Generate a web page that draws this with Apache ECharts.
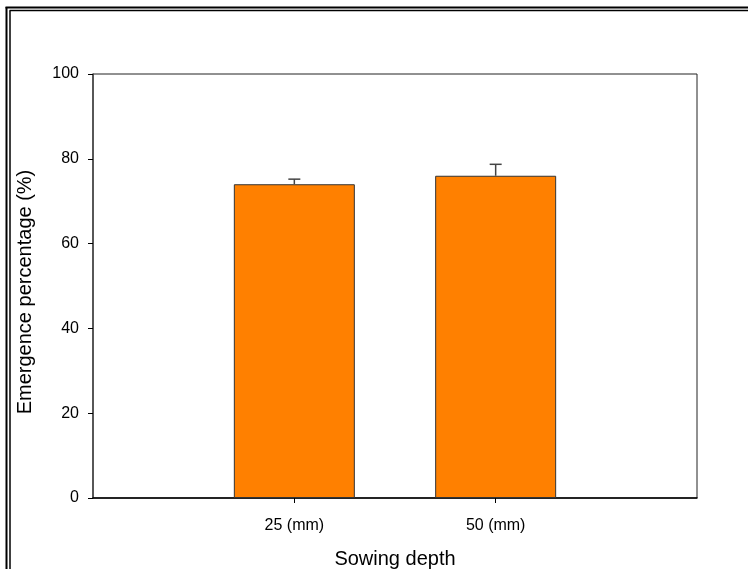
<!DOCTYPE html>
<html>
<head>
<meta charset="utf-8">
<script src="https://cdn.jsdelivr.net/npm/echarts@6/dist/echarts.min.js"></script>
<style>
  html, body { margin: 0; padding: 0; background: #fff; }
  #chart { width: 748px; height: 569px; }
</style>
</head>
<body>
<div id="chart"></div>
<script>
// Sowing depth treatments, padded with empty slots at both ends of the axis
const categories = ['', '25 (mm)', '50 (mm)', ''];
// Mean emergence (%) per depth
const emergence = [null, 74, 76, null];
// Upper standard error (%) per depth
const errorUp = [null, 1.2, 2.7, null];
const yTicks = [0, 20, 40, 60, 80, 100];

const chart = echarts.init(document.getElementById('chart'), null, { renderer: 'canvas' });

const errorData = [];
categories.forEach((c, i) => {
  if (emergence[i] != null) errorData.push([i, emergence[i], emergence[i] + errorUp[i]]);
});

const font = 'Liberation Sans, Arial, sans-serif';

chart.setOption({
  animation: false,
  backgroundColor: '#fff',
  grid: {
    left: 93, top: 74, right: 51, bottom: 71,
    outerBoundsMode: 'none',
    containLabel: false,
    show: true, borderColor: '#222', borderWidth: 1, backgroundColor: 'transparent'
  },
  xAxis: {
    type: 'category',
    data: categories,
    boundaryGap: false,
    name: 'Sowing depth',
    nameLocation: 'middle',
    nameGap: 51,
    nameTextStyle: { fontFamily: font, fontSize: 20, color: '#000' },
    axisLine: { lineStyle: { color: '#000', width: 1.5 } },
    axisTick: {
      length: 5, inside: false,
      interval: (idx) => categories[idx] !== '',
      lineStyle: { color: '#000' }
    },
    axisLabel: {
      interval: 0, margin: 20,
      fontFamily: font, fontSize: 16, color: '#000'
    },
    splitLine: { show: false }
  },
  yAxis: {
    type: 'value',
    min: yTicks[0], max: yTicks[yTicks.length - 1], interval: 20,
    name: 'Emergence percentage (%)',
    nameLocation: 'middle',
    nameGap: 58,
    nameTextStyle: { fontFamily: font, fontSize: 20, color: '#000', padding: [0, 12, 0, 0] },
    axisLine: { show: true, lineStyle: { color: '#444', width: 1.5 } },
    axisTick: { show: true, length: 5, lineStyle: { color: '#000' } },
    axisLabel: { margin: 14, fontFamily: font, fontSize: 16, color: '#000' },
    splitLine: { show: false }
  },
  series: [
    {
      type: 'bar',
      data: emergence,
      barWidth: 121,
      itemStyle: { color: '#ff8000', borderColor: '#333', borderWidth: 1 },
      z: 2
    },
    {
      type: 'custom',
      data: errorData,
      z: 3,
      renderItem: function (params, api) {
        const x = api.value(0);
        const top = api.coord([x, api.value(1)]);
        const hi = api.coord([x, api.value(2)]);
        const half = 6;
        const style = { stroke: '#444', lineWidth: 1.5 };
        return {
          type: 'group',
          children: [
            { type: 'line', shape: { x1: top[0], y1: top[1], x2: hi[0], y2: hi[1] }, style: style },
            { type: 'line', shape: { x1: hi[0] - half, y1: hi[1], x2: hi[0] + half, y2: hi[1] }, style: style }
          ]
        };
      }
    }
  ],
  graphic: [
    // double page frame on left and top
    { type: 'line', shape: { x1: 6.5, y1: 7, x2: 6.5, y2: 569 }, style: { stroke: '#000', lineWidth: 2 } },
    { type: 'line', shape: { x1: 10, y1: 10.5, x2: 10, y2: 569 }, style: { stroke: '#000', lineWidth: 1.5 } },
    { type: 'line', shape: { x1: 5.5, y1: 7.5, x2: 748, y2: 7.5 }, style: { stroke: '#000', lineWidth: 2 } },
    { type: 'line', shape: { x1: 9.5, y1: 10.5, x2: 748, y2: 10.5 }, style: { stroke: '#000', lineWidth: 1.5 } }
  ]
});
</script>
</body>
</html>
